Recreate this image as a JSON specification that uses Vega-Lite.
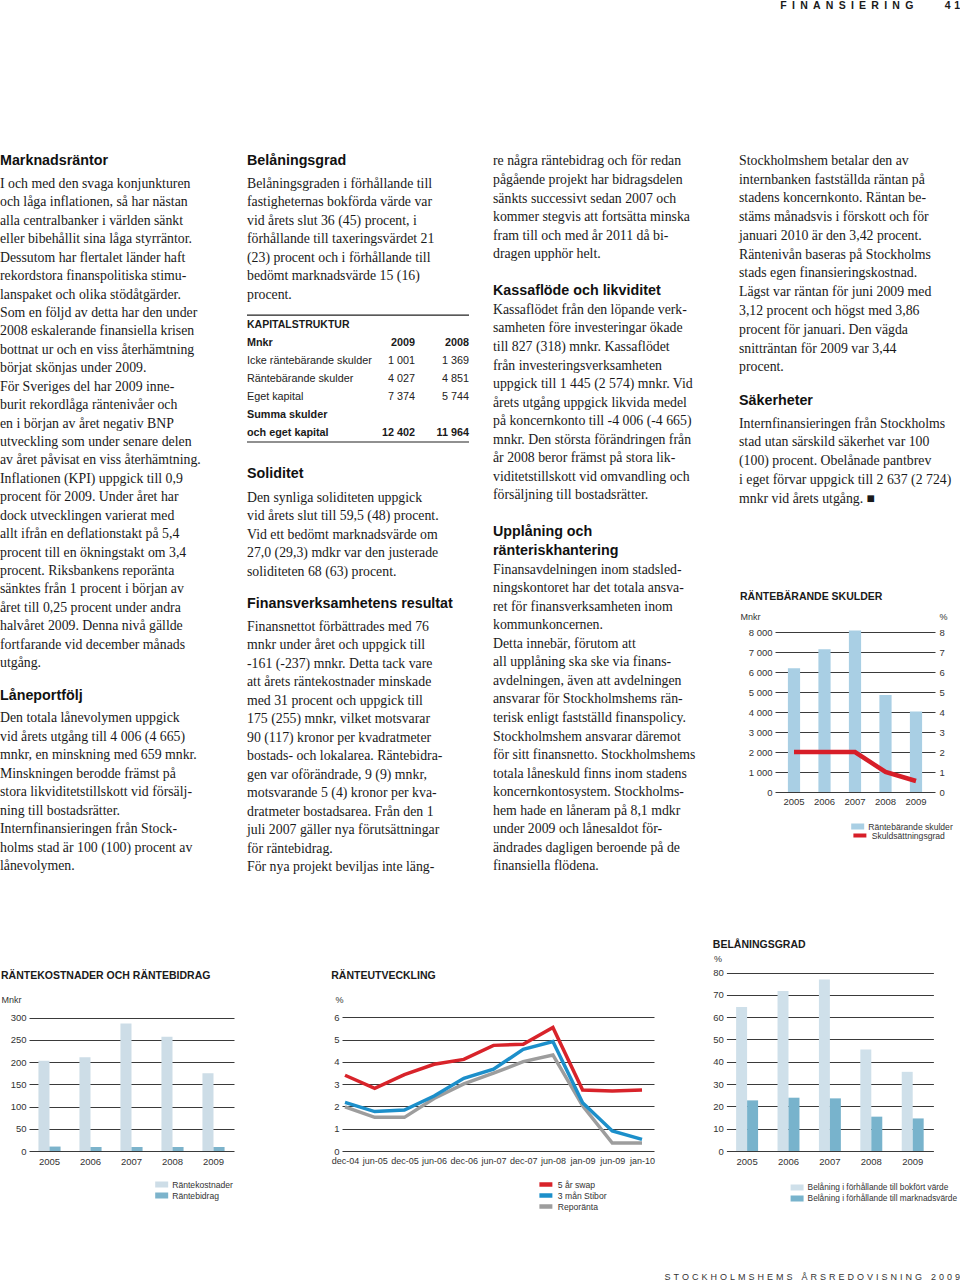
{
"$schema": "https://vega.github.io/schema/vega-lite/v6.json",
"padding": 0,
"background": "white",
"usermeta": {"embedOptions": {"actions": false}},
"config": {
  "view": {"stroke": null},
  "font": "Liberation Sans",
  "axis": {"labelFont": "Liberation Sans", "labelFontSize": 9.5, "labelColor": "#333333", "titleFont": "Liberation Sans", "titleFontSize": 9, "titleFontWeight": "normal", "titleColor": "#333333", "gridColor": "#3a3a3a", "gridWidth": 1, "domain": false, "ticks": false},
  "legend": {"labelFont": "Liberation Sans", "labelFontSize": 8.6, "labelColor": "#333333", "labelLimit": 300},
  "title": {"font": "Liberation Sans", "fontSize": 10.5, "fontWeight": "bold", "color": "#1a1a1a", "anchor": "start", "frame": "bounds"}
},
"datasets": {
  "c1": [
    {"line": 0, "kind": "h", "text": "Marknadsräntor"},
    {"line": 1, "kind": "b", "text": "I och med den svaga konjunkturen"},
    {"line": 2, "kind": "b", "text": "och låga inflationen, så har nästan"},
    {"line": 3, "kind": "b", "text": "alla centralbanker i världen sänkt"},
    {"line": 4, "kind": "b", "text": "eller bibehållit sina låga styrräntor."},
    {"line": 5, "kind": "b", "text": "Dessutom har flertalet länder haft"},
    {"line": 6, "kind": "b", "text": "rekordstora finanspolitiska stimu-"},
    {"line": 7, "kind": "b", "text": "lanspaket och olika stödåtgärder."},
    {"line": 8, "kind": "b", "text": "Som en följd av detta har den under"},
    {"line": 9, "kind": "b", "text": "2008 eskalerande finansiella krisen"},
    {"line": 10, "kind": "b", "text": "bottnat ur och en viss återhämtning"},
    {"line": 11, "kind": "b", "text": "börjat skönjas under 2009."},
    {"line": 12, "kind": "b", "text": "\u2003\u2005För Sveriges del har 2009 inne-"},
    {"line": 13, "kind": "b", "text": "burit rekordlåga räntenivåer och"},
    {"line": 14, "kind": "b", "text": "en i början av året negativ BNP"},
    {"line": 15, "kind": "b", "text": "utveckling som under senare delen"},
    {"line": 16, "kind": "b", "text": "av året påvisat en viss återhämtning."},
    {"line": 17, "kind": "b", "text": "Inflationen (KPI) uppgick till 0,9"},
    {"line": 18, "kind": "b", "text": "procent för 2009. Under året har"},
    {"line": 19, "kind": "b", "text": "dock utvecklingen varierat med"},
    {"line": 20, "kind": "b", "text": "allt ifrån en deflationstakt på 5,4"},
    {"line": 21, "kind": "b", "text": "procent till en ökningstakt om 3,4"},
    {"line": 22, "kind": "b", "text": "procent. Riksbankens reporänta"},
    {"line": 23, "kind": "b", "text": "sänktes från 1 procent i början av"},
    {"line": 24, "kind": "b", "text": "året till 0,25 procent under andra"},
    {"line": 25, "kind": "b", "text": "halvåret 2009. Denna nivå gällde"},
    {"line": 26, "kind": "b", "text": "fortfarande vid december månads"},
    {"line": 27, "kind": "b", "text": "utgång."},
    {"line": 29, "kind": "h", "text": "Låneportfölj"},
    {"line": 30, "kind": "b", "text": "Den totala lånevolymen uppgick"},
    {"line": 31, "kind": "b", "text": "vid årets utgång till 4 006 (4 665)"},
    {"line": 32, "kind": "b", "text": "mnkr, en minskning med 659 mnkr."},
    {"line": 33, "kind": "b", "text": "Minskningen berodde främst på"},
    {"line": 34, "kind": "b", "text": "stora likviditetstillskott vid försälj-"},
    {"line": 35, "kind": "b", "text": "ning till bostadsrätter."},
    {"line": 36, "kind": "b", "text": "\u2003\u2005Internfinansieringen från Stock-"},
    {"line": 37, "kind": "b", "text": "holms stad är 100 (100) procent av"},
    {"line": 38, "kind": "b", "text": "lånevolymen."}
  ],
  "c2": [
    {"line": 0, "kind": "h", "text": "Belåningsgrad"},
    {"line": 1, "kind": "b", "text": "Belåningsgraden i förhållande till"},
    {"line": 2, "kind": "b", "text": "fastigheternas bokförda värde var"},
    {"line": 3, "kind": "b", "text": "vid årets slut 36 (45) procent, i"},
    {"line": 4, "kind": "b", "text": "förhållande till taxeringsvärdet 21"},
    {"line": 5, "kind": "b", "text": "(23) procent och i förhållande till"},
    {"line": 6, "kind": "b", "text": "bedömt marknadsvärde 15 (16)"},
    {"line": 7, "kind": "b", "text": "procent."},
    {"line": 17, "kind": "h", "text": "Soliditet"},
    {"line": 18, "kind": "b", "text": "Den synliga soliditeten uppgick"},
    {"line": 19, "kind": "b", "text": "vid årets slut till 59,5 (48) procent."},
    {"line": 20, "kind": "b", "text": "Vid ett bedömt marknadsvärde om"},
    {"line": 21, "kind": "b", "text": "27,0 (29,3) mdkr var den justerade"},
    {"line": 22, "kind": "b", "text": "soliditeten 68 (63) procent."},
    {"line": 24, "kind": "h", "text": "Finansverksamhetens resultat"},
    {"line": 25, "kind": "b", "text": "Finansnettot förbättrades med 76"},
    {"line": 26, "kind": "b", "text": "mnkr under året och uppgick till"},
    {"line": 27, "kind": "b", "text": "-161 (-237) mnkr. Detta tack vare"},
    {"line": 28, "kind": "b", "text": "att årets räntekostnader minskade"},
    {"line": 29, "kind": "b", "text": "med 31 procent och uppgick till"},
    {"line": 30, "kind": "b", "text": "175 (255) mnkr, vilket motsvarar"},
    {"line": 31, "kind": "b", "text": "90 (117) kronor per kvadratmeter"},
    {"line": 32, "kind": "b", "text": "bostads- och lokalarea. Räntebidra-"},
    {"line": 33, "kind": "b", "text": "gen var oförändrade, 9 (9) mnkr,"},
    {"line": 34, "kind": "b", "text": "motsvarande 5 (4) kronor per kva-"},
    {"line": 35, "kind": "b", "text": "dratmeter bostadsarea. Från den 1"},
    {"line": 36, "kind": "b", "text": "juli 2007 gäller nya förutsättningar"},
    {"line": 37, "kind": "b", "text": "för räntebidrag."},
    {"line": 38, "kind": "b", "text": "\u2003\u2005För nya projekt beviljas inte läng-"}
  ],
  "c3": [
    {"line": 0, "kind": "b", "text": "re några räntebidrag och för redan"},
    {"line": 1, "kind": "b", "text": "pågående projekt har bidragsdelen"},
    {"line": 2, "kind": "b", "text": "sänkts successivt sedan 2007 och"},
    {"line": 3, "kind": "b", "text": "kommer stegvis att fortsätta minska"},
    {"line": 4, "kind": "b", "text": "fram till och med år 2011 då bi-"},
    {"line": 5, "kind": "b", "text": "dragen upphör helt."},
    {"line": 7, "kind": "h", "text": "Kassaflöde och likviditet"},
    {"line": 8, "kind": "b", "text": "Kassaflödet från den löpande verk-"},
    {"line": 9, "kind": "b", "text": "samheten före investeringar ökade"},
    {"line": 10, "kind": "b", "text": "till 827 (318) mnkr. Kassaflödet"},
    {"line": 11, "kind": "b", "text": "från investeringsverksamheten"},
    {"line": 12, "kind": "b", "text": "uppgick till 1 445 (2 574) mnkr. Vid"},
    {"line": 13, "kind": "b", "text": "årets utgång uppgick likvida medel"},
    {"line": 14, "kind": "b", "text": "på koncernkonto till -4 006 (-4 665)"},
    {"line": 15, "kind": "b", "text": "mnkr. Den största förändringen från"},
    {"line": 16, "kind": "b", "text": "år 2008 beror främst på stora lik-"},
    {"line": 17, "kind": "b", "text": "viditetstillskott vid omvandling och"},
    {"line": 18, "kind": "b", "text": "försäljning till bostadsrätter."},
    {"line": 20, "kind": "h", "text": "Upplåning och"},
    {"line": 21, "kind": "h", "text": "ränteriskhantering"},
    {"line": 22, "kind": "b", "text": "Finansavdelningen inom stadsled-"},
    {"line": 23, "kind": "b", "text": "ningskontoret har det totala ansva-"},
    {"line": 24, "kind": "b", "text": "ret för finansverksamheten inom"},
    {"line": 25, "kind": "b", "text": "kommunkoncernen."},
    {"line": 26, "kind": "b", "text": "\u2003\u2005Detta innebär, förutom att"},
    {"line": 27, "kind": "b", "text": "all upplåning ska ske via finans-"},
    {"line": 28, "kind": "b", "text": "avdelningen, även att avdelningen"},
    {"line": 29, "kind": "b", "text": "ansvarar för Stockholmshems rän-"},
    {"line": 30, "kind": "b", "text": "terisk enligt fastställd finanspolicy."},
    {"line": 31, "kind": "b", "text": "Stockholmshem ansvarar däremot"},
    {"line": 32, "kind": "b", "text": "för sitt finansnetto. Stockholmshems"},
    {"line": 33, "kind": "b", "text": "totala låneskuld finns inom stadens"},
    {"line": 34, "kind": "b", "text": "koncernkontosystem. Stockholms-"},
    {"line": 35, "kind": "b", "text": "hem hade en låneram på 8,1 mdkr"},
    {"line": 36, "kind": "b", "text": "under 2009 och lånesaldot för-"},
    {"line": 37, "kind": "b", "text": "ändrades dagligen beroende på de"},
    {"line": 38, "kind": "b", "text": "finansiella flödena."}
  ],
  "c4": [
    {"line": 0, "kind": "b", "text": "\u2003\u2005Stockholmshem betalar den av"},
    {"line": 1, "kind": "b", "text": "internbanken fastställda räntan på"},
    {"line": 2, "kind": "b", "text": "stadens koncernkonto. Räntan be-"},
    {"line": 3, "kind": "b", "text": "stäms månadsvis i förskott och för"},
    {"line": 4, "kind": "b", "text": "januari 2010 är den 3,42 procent."},
    {"line": 5, "kind": "b", "text": "Räntenivån baseras på Stockholms"},
    {"line": 6, "kind": "b", "text": "stads egen finansieringskostnad."},
    {"line": 7, "kind": "b", "text": "Lägst var räntan för juni 2009 med"},
    {"line": 8, "kind": "b", "text": "3,12 procent och högst med 3,86"},
    {"line": 9, "kind": "b", "text": "procent för januari. Den vägda"},
    {"line": 10, "kind": "b", "text": "snitträntan för 2009 var 3,44"},
    {"line": 11, "kind": "b", "text": "procent."},
    {"line": 13, "kind": "h", "text": "Säkerheter"},
    {"line": 14, "kind": "b", "text": "Internfinansieringen från Stockholms"},
    {"line": 15, "kind": "b", "text": "stad utan särskild säkerhet var 100"},
    {"line": 16, "kind": "b", "text": "(100) procent. Obelånade pantbrev"},
    {"line": 17, "kind": "b", "text": "i eget förvar uppgick till 2 637 (2 724)"},
    {"line": 18, "kind": "b", "text": "mnkr vid årets utgång. \u25a0"}
  ],
  "kapL": [
    {"r": 0, "kind": "title", "label": "KAPITALSTRUKTUR"},
    {"r": 1, "kind": "head", "label": "Mnkr"},
    {"r": 2, "kind": "item", "label": "Icke räntebärande skulder"},
    {"r": 3, "kind": "item", "label": "Räntebärande skulder"},
    {"r": 4, "kind": "item", "label": "Eget kapital"},
    {"r": 5, "kind": "total", "label": "Summa skulder"},
    {"r": 6, "kind": "total", "label": "och eget kapital"}
  ],
  "kapN": [
    {"r": 1, "kind": "head", "col": "2009", "v": "2009"},
    {"r": 1, "kind": "head", "col": "2008", "v": "2008"},
    {"r": 2, "kind": "item", "col": "2009", "v": "1 001"},
    {"r": 2, "kind": "item", "col": "2008", "v": "1 369"},
    {"r": 3, "kind": "item", "col": "2009", "v": "4 027"},
    {"r": 3, "kind": "item", "col": "2008", "v": "4 851"},
    {"r": 4, "kind": "item", "col": "2009", "v": "7 374"},
    {"r": 4, "kind": "item", "col": "2008", "v": "5 744"},
    {"r": 6, "kind": "total", "col": "2009", "v": "12 402"},
    {"r": 6, "kind": "total", "col": "2008", "v": "11 964"}
  ],
  "rs": [
    {"year": "2005", "skulder": 6190, "grad": 2.0},
    {"year": "2006", "skulder": 7140, "grad": 2.0},
    {"year": "2007", "skulder": 8070, "grad": 2.0},
    {"year": "2008", "skulder": 4851, "grad": 1.0},
    {"year": "2009", "skulder": 4027, "grad": 0.55}
  ],
  "rk": [
    {"year": "2005", "serie": "Räntekostnader", "value": 203},
    {"year": "2005", "serie": "Räntebidrag", "value": 10},
    {"year": "2006", "serie": "Räntekostnader", "value": 211},
    {"year": "2006", "serie": "Räntebidrag", "value": 9},
    {"year": "2007", "serie": "Räntekostnader", "value": 287},
    {"year": "2007", "serie": "Räntebidrag", "value": 9},
    {"year": "2008", "serie": "Räntekostnader", "value": 257},
    {"year": "2008", "serie": "Räntebidrag", "value": 9},
    {"year": "2009", "serie": "Räntekostnader", "value": 175},
    {"year": "2009", "serie": "Räntebidrag", "value": 9}
  ],
  "ru": [
    {"period": "dec-04", "serie": "Reporänta", "value": 1.98},
    {"period": "jun-05", "serie": "Reporänta", "value": 1.51},
    {"period": "dec-05", "serie": "Reporänta", "value": 1.51},
    {"period": "jun-06", "serie": "Reporänta", "value": 2.36},
    {"period": "dec-06", "serie": "Reporänta", "value": 3.01},
    {"period": "jun-07", "serie": "Reporänta", "value": 3.49},
    {"period": "dec-07", "serie": "Reporänta", "value": 4.01},
    {"period": "jun-08", "serie": "Reporänta", "value": 4.31},
    {"period": "jan-09", "serie": "Reporänta", "value": 2.03},
    {"period": "jun-09", "serie": "Reporänta", "value": 0.36},
    {"period": "jan-10", "serie": "Reporänta", "value": 0.36},
    {"period": "dec-04", "serie": "3 mån Stibor", "value": 2.18},
    {"period": "jun-05", "serie": "3 mån Stibor", "value": 1.77},
    {"period": "dec-05", "serie": "3 mån Stibor", "value": 1.84},
    {"period": "jun-06", "serie": "3 mån Stibor", "value": 2.47},
    {"period": "dec-06", "serie": "3 mån Stibor", "value": 3.26},
    {"period": "jun-07", "serie": "3 mån Stibor", "value": 3.67},
    {"period": "dec-07", "serie": "3 mån Stibor", "value": 4.56},
    {"period": "jun-08", "serie": "3 mån Stibor", "value": 4.91},
    {"period": "jan-09", "serie": "3 mån Stibor", "value": 2.17},
    {"period": "jun-09", "serie": "3 mån Stibor", "value": 0.9},
    {"period": "jan-10", "serie": "3 mån Stibor", "value": 0.52},
    {"period": "dec-04", "serie": "5 år swap", "value": 3.4},
    {"period": "jun-05", "serie": "5 år swap", "value": 2.81},
    {"period": "dec-05", "serie": "5 år swap", "value": 3.43},
    {"period": "jun-06", "serie": "5 år swap", "value": 3.89},
    {"period": "dec-06", "serie": "5 år swap", "value": 4.11},
    {"period": "jun-07", "serie": "5 år swap", "value": 4.74},
    {"period": "dec-07", "serie": "5 år swap", "value": 4.79},
    {"period": "jun-08", "serie": "5 år swap", "value": 5.54},
    {"period": "jan-09", "serie": "5 år swap", "value": 2.74},
    {"period": "jun-09", "serie": "5 år swap", "value": 2.69},
    {"period": "jan-10", "serie": "5 år swap", "value": 2.74}
  ],
  "bg": [
    {"year": "2005", "serie": "Belåning i förhållande till bokfört värde", "value": 64.6},
    {"year": "2005", "serie": "Belåning i förhållande till marknadsvärde", "value": 22.7},
    {"year": "2006", "serie": "Belåning i förhållande till bokfört värde", "value": 71.8},
    {"year": "2006", "serie": "Belåning i förhållande till marknadsvärde", "value": 23.9},
    {"year": "2007", "serie": "Belåning i förhållande till bokfört värde", "value": 76.9},
    {"year": "2007", "serie": "Belåning i förhållande till marknadsvärde", "value": 23.6},
    {"year": "2008", "serie": "Belåning i förhållande till bokfört värde", "value": 45.5},
    {"year": "2008", "serie": "Belåning i förhållande till marknadsvärde", "value": 15.4},
    {"year": "2009", "serie": "Belåning i förhållande till bokfört värde", "value": 35.5},
    {"year": "2009", "serie": "Belåning i förhållande till marknadsvärde", "value": 14.6}
  ]
},
"columns": 1,
"align": "none",
"spacing": 55,
"resolve": {"scale": {"color": "independent", "fill": "independent", "stroke": "independent"}, "legend": {"color": "independent", "fill": "independent", "stroke": "independent"}},
"concat": [
  {
    "width": 960, "height": 12,
    "data": {"values": [{"t": "F\u2002I\u2002N\u2002A\u2002N\u2002S\u2002I\u2002E\u2002R\u2002I\u2002N\u2002G\u2003\u2003\u20034\u20041"}]},
    "mark": {"type": "text", "align": "right", "baseline": "middle", "font": "Liberation Sans", "fontWeight": "bold", "fontSize": 10.5, "fill": "#1a1a1a"},
    "encoding": {"text": {"field": "t"}, "x": {"value": "width"}}
  },
  {
    "columns": 4,
    "align": "none",
    "spacing": 14,
    "resolve": {"scale": {"color": "independent", "fill": "independent", "stroke": "independent"}, "legend": {"color": "independent", "fill": "independent", "stroke": "independent"}},
    "concat": [
      {
        "width": 232, "height": 813,
        "data": {"name": "c1"},
        "layer": [
          {"transform": [{"filter": "datum.kind == 'b'"}],
           "mark": {"type": "text", "align": "left", "baseline": "middle", "font": "Liberation Serif", "fontSize": 13.8, "fill": "#1a1a1a"},
           "encoding": {"x": {"value": 0}, "y": {"field": "line", "type": "quantitative", "scale": {"domain": [-5.35, 38.763], "reverse": true, "nice": false, "zero": false}, "axis": null}, "text": {"field": "text"}}},
          {"transform": [{"filter": "datum.kind == 'h'"}],
           "mark": {"type": "text", "align": "left", "baseline": "middle", "font": "Liberation Sans", "fontWeight": "bold", "fontSize": 14.3, "fill": "#111111", "dy": -4.5},
           "encoding": {"x": {"value": 0}, "y": {"field": "line", "type": "quantitative", "scale": {"domain": [-5.35, 38.763], "reverse": true, "nice": false, "zero": false}, "axis": null}, "text": {"field": "text"}}}
        ]
      },
      {
        "width": 232, "height": 813,
        "layer": [
          {"data": {"name": "c2"}, "transform": [{"filter": "datum.kind == 'b'"}],
           "mark": {"type": "text", "align": "left", "baseline": "middle", "font": "Liberation Serif", "fontSize": 13.8, "fill": "#1a1a1a"},
           "encoding": {"x": {"value": 0}, "y": {"field": "line", "type": "quantitative", "scale": {"domain": [-5.336, 38.705], "reverse": true, "nice": false, "zero": false}, "axis": null}, "text": {"field": "text"}}},
          {"data": {"name": "c2"}, "transform": [{"filter": "datum.kind == 'h'"}],
           "mark": {"type": "text", "align": "left", "baseline": "middle", "font": "Liberation Sans", "fontWeight": "bold", "fontSize": 14.3, "fill": "#111111", "dy": -5},
           "encoding": {"x": {"value": 0}, "y": {"field": "line", "type": "quantitative", "scale": {"domain": [-5.336, 38.705], "reverse": true, "nice": false, "zero": false}, "axis": null}, "text": {"field": "text"}}},
          {"data": {"name": "kapL"}, "transform": [{"filter": "datum.kind == 'title'"}],
           "mark": {"type": "text", "align": "left", "baseline": "middle", "font": "Liberation Sans", "fontWeight": "bold", "fontSize": 10.5, "fill": "#1a1a1a"},
           "encoding": {"x": {"value": 0}, "y": {"field": "r", "type": "quantitative", "scale": {"domain": [-14.3333, 30.8333], "reverse": true, "nice": false, "zero": false}, "axis": null}, "text": {"field": "label"}}},
          {"data": {"name": "kapL"}, "transform": [{"filter": "datum.kind == 'item'"}],
           "mark": {"type": "text", "align": "left", "baseline": "middle", "font": "Liberation Sans", "fontSize": 10.8, "fill": "#222222"},
           "encoding": {"x": {"value": 0}, "y": {"field": "r", "type": "quantitative", "scale": {"domain": [-14.3333, 30.8333], "reverse": true, "nice": false, "zero": false}, "axis": null}, "text": {"field": "label"}}},
          {"data": {"name": "kapL"}, "transform": [{"filter": "datum.kind == 'head' || datum.kind == 'total'"}],
           "mark": {"type": "text", "align": "left", "baseline": "middle", "font": "Liberation Sans", "fontWeight": "bold", "fontSize": 10.8, "fill": "#1a1a1a"},
           "encoding": {"x": {"value": 0}, "y": {"field": "r", "type": "quantitative", "scale": {"domain": [-14.3333, 30.8333], "reverse": true, "nice": false, "zero": false}, "axis": null}, "text": {"field": "label"}}},
          {"data": {"name": "kapN"}, "transform": [{"filter": "datum.kind == 'item'"}],
           "mark": {"type": "text", "align": "right", "baseline": "middle", "font": "Liberation Sans", "fontSize": 10.8, "fill": "#222222"},
           "encoding": {"x": {"field": "col", "type": "ordinal", "scale": {"domain": ["2009", "2008"], "range": [168, 222], "padding": 0}, "axis": null}, "y": {"field": "r", "type": "quantitative", "scale": {"domain": [-14.3333, 30.8333], "reverse": true, "nice": false, "zero": false}, "axis": null}, "text": {"field": "v"}}},
          {"data": {"name": "kapN"}, "transform": [{"filter": "datum.kind != 'item'"}],
           "mark": {"type": "text", "align": "right", "baseline": "middle", "font": "Liberation Sans", "fontWeight": "bold", "fontSize": 10.8, "fill": "#1a1a1a"},
           "encoding": {"x": {"field": "col", "type": "ordinal", "scale": {"domain": ["2009", "2008"], "range": [168, 222], "padding": 0}, "axis": null}, "y": {"field": "r", "type": "quantitative", "scale": {"domain": [-14.3333, 30.8333], "reverse": true, "nice": false, "zero": false}, "axis": null}, "text": {"field": "v"}}},
          {"data": {"values": [{}]},
           "mark": {"type": "rule", "color": "#222222", "strokeWidth": 1.2},
           "encoding": {"x": {"value": 0}, "x2": {"value": 222}, "y": {"datum": -0.55, "type": "quantitative", "scale": {"domain": [-14.3333, 30.8333], "reverse": true, "nice": false, "zero": false}, "axis": null}}},
          {"data": {"values": [{}]},
           "mark": {"type": "rule", "color": "#222222", "strokeWidth": 1.2},
           "encoding": {"x": {"value": 0}, "x2": {"value": 222}, "y": {"datum": 6.5, "type": "quantitative", "scale": {"domain": [-14.3333, 30.8333], "reverse": true, "nice": false, "zero": false}, "axis": null}}}
        ],
        "resolve": {"scale": {"y": "independent"}}
      },
      {
        "width": 232, "height": 813,
        "data": {"name": "c3"},
        "layer": [
          {"transform": [{"filter": "datum.kind == 'b'"}],
           "mark": {"type": "text", "align": "left", "baseline": "middle", "font": "Liberation Serif", "fontSize": 13.8, "fill": "#1a1a1a"},
           "encoding": {"x": {"value": 0}, "y": {"field": "line", "type": "quantitative", "scale": {"domain": [-5.0943, 38.7332], "reverse": true, "nice": false, "zero": false}, "axis": null}, "text": {"field": "text"}}},
          {"transform": [{"filter": "datum.kind == 'h'"}],
           "mark": {"type": "text", "align": "left", "baseline": "middle", "font": "Liberation Sans", "fontWeight": "bold", "fontSize": 14.3, "fill": "#111111", "dy": 0},
           "encoding": {"x": {"value": 0}, "y": {"field": "line", "type": "quantitative", "scale": {"domain": [-5.0943, 38.7332], "reverse": true, "nice": false, "zero": false}, "axis": null}, "text": {"field": "text"}}}
        ]
      },
      {
        "columns": 1,
        "align": "none",
        "spacing": 10,
        "resolve": {"scale": {"color": "independent", "fill": "independent", "stroke": "independent"}, "legend": {"color": "independent", "fill": "independent", "stroke": "independent"}},
        "concat": [
          {
            "width": 222, "height": 513.5,
            "data": {"name": "c4"},
            "layer": [
              {"transform": [{"filter": "datum.kind == 'b'"}],
               "mark": {"type": "text", "align": "left", "baseline": "middle", "font": "Liberation Serif", "fontSize": 13.8, "fill": "#1a1a1a"},
               "encoding": {"x": {"value": 0}, "y": {"field": "line", "type": "quantitative", "scale": {"domain": [-5.0133, 22.3733], "reverse": true, "nice": false, "zero": false}, "axis": null}, "text": {"field": "text"}}},
              {"transform": [{"filter": "datum.kind == 'h'"}],
               "mark": {"type": "text", "align": "left", "baseline": "middle", "font": "Liberation Sans", "fontWeight": "bold", "fontSize": 14.3, "fill": "#111111", "dy": -4},
               "encoding": {"x": {"value": 0}, "y": {"field": "line", "type": "quantitative", "scale": {"domain": [-5.0133, 22.3733], "reverse": true, "nice": false, "zero": false}, "axis": null}, "text": {"field": "text"}}}
            ]
          },
          {
            "columns": 2,
            "align": "none",
            "spacing": 0,
            "resolve": {"scale": {"color": "independent", "fill": "independent", "stroke": "independent"}, "legend": {"color": "independent", "fill": "independent", "stroke": "independent"}},
            "concat": [
              {"width": 1, "height": 1, "data": {"values": [{"t": ""}]}, "mark": {"type": "text", "baseline": "top", "align": "left"}, "encoding": {"text": {"field": "t"}, "x": {"value": 0}, "y": {"value": 0}}},
              {
                "width": 160, "height": 160,
                "title": {"text": "\u2002\u2002RÄNTEBÄRANDE SKULDER", "offset": 10},
                "data": {"name": "rs"},
                "layer": [
                  {"mark": {"type": "bar"},
                   "encoding": {
                     "x": {"field": "year", "type": "ordinal", "scale": {"paddingInner": 0.6, "paddingOuter": 0.423}, "axis": {"title": null, "labelAngle": 0, "labelPadding": 4}},
                     "y": {"field": "skulder", "type": "quantitative", "scale": {"domain": [0, 8000], "nice": false}, "axis": {"values": [0, 1000, 2000, 3000, 4000, 5000, 6000, 7000, 8000], "labelExpr": "replace(format(datum.value, ',d'), ',', ' ')", "title": "\u2002\u2002Mnkr", "titleAngle": 0, "titleAlign": "left", "titleBaseline": "middle", "titleX": -35, "titleY": -16, "labelPadding": 3}},
                     "fill": {"datum": "Räntebärande skulder", "type": "nominal", "scale": {"range": ["#a9cfe4"]}, "legend": {"title": null, "orient": "none", "legendX": 76.2, "legendY": 190, "symbolType": "M-2,-0.7H2V0.7H-2Z", "symbolSize": 72, "labelOffset": 8, "clipHeight": 9, "symbolStrokeWidth": 0}}
                   }},
                  {"mark": {"type": "line", "strokeWidth": 4.5, "strokeCap": "butt"},
                   "encoding": {
                     "x": {"field": "year", "type": "ordinal"},
                     "y": {"field": "grad", "type": "quantitative", "scale": {"domain": [0, 8], "nice": false}, "axis": {"orient": "right", "values": [0, 1, 2, 3, 4, 5, 6, 7, 8], "grid": false, "title": "%", "titleAngle": 0, "titleAlign": "left", "titleBaseline": "middle", "titleX": 4, "titleY": -16, "labelPadding": 4}},
                     "stroke": {"datum": "Skuldsättningsgrad", "type": "nominal", "scale": {"range": ["#d71e28"]}, "legend": {"title": null, "orient": "none", "legendX": 78.4, "legendY": 199, "symbolType": "M-4,0H4", "symbolSize": 18, "labelOffset": 9.4, "clipHeight": 9, "symbolStrokeWidth": 4}}
                   }}
                ],
                "resolve": {"scale": {"y": "independent"}}
              }
            ]
          }
        ]
      }
    ]
  },
  {
    "columns": 2,
    "align": "none",
    "spacing": 0,
    "resolve": {"scale": {"color": "independent", "fill": "independent", "stroke": "independent"}, "legend": {"color": "independent", "fill": "independent", "stroke": "independent"}},
    "concat": [
      {"width": 1, "height": 1, "data": {"values": [{"t": ""}]}, "mark": {"type": "text", "baseline": "top", "align": "left"}, "encoding": {"text": {"field": "t"}, "x": {"value": 0}, "y": {"value": 0}}},
      {
        "columns": 2,
        "align": "none",
        "spacing": 97,
        "resolve": {"scale": {"color": "independent", "fill": "independent", "stroke": "independent"}, "legend": {"color": "independent", "fill": "independent", "stroke": "independent"}},
        "concat": [
          {
            "width": 205, "height": 216,
            "title": {"text": "RÄNTEKOSTNADER OCH RÄNTEBIDRAG", "offset": -46},
            "data": {"name": "rk"},
            "encoding": {
              "x": {"field": "year", "type": "ordinal", "scale": {"paddingInner": 0.46, "paddingOuter": 0.23}, "axis": {"title": null, "labelAngle": 0, "labelPadding": 5}},
              "y": {"field": "value", "type": "quantitative", "scale": {"domain": [0, 486.1], "nice": false}, "axis": {"values": [0, 50, 100, 150, 200, 250, 300], "title": "\u2002Mnkr", "titleAngle": 0, "titleAlign": "left", "titleBaseline": "middle", "titleX": -28, "titleY": 64, "labelPadding": 3}},
              "color": {"field": "serie", "type": "nominal", "scale": {"domain": ["Räntekostnader", "Räntebidrag"], "range": ["#cddde7", "#7cb3cb"]}, "legend": {"title": null, "orient": "none", "legendX": 126.2, "legendY": 245, "symbolType": "M-2,-0.7H2V0.7H-2Z", "symbolSize": 72, "labelOffset": 8, "clipHeight": 9, "rowPadding": 1, "symbolStrokeWidth": 0}}
            },
            "layer": [
              {"transform": [{"filter": "datum.serie == 'Räntekostnader'"}], "mark": {"type": "bar", "width": {"band": 0.5}, "xOffset": -5.53}},
              {"transform": [{"filter": "datum.serie == 'Räntebidrag'"}], "mark": {"type": "bar", "width": {"band": 0.5}, "xOffset": 5.53}}
            ]
          },
          {
            "columns": 2,
            "align": "none",
            "spacing": 57.4,
            "resolve": {"scale": {"color": "independent", "fill": "independent", "stroke": "independent"}, "legend": {"color": "independent", "fill": "independent", "stroke": "independent"}},
            "concat": [
              {
                "width": 312, "height": 216,
                "title": {"text": "RÄNTEUTVECKLING", "offset": -46},
                "data": {"name": "ru"},
                "mark": {"type": "line", "strokeWidth": 3.5},
                "encoding": {
                  "x": {"field": "period", "type": "ordinal", "sort": ["dec-04", "jun-05", "dec-05", "jun-06", "dec-06", "jun-07", "dec-07", "jun-08", "jan-09", "jun-09", "jan-10"], "scale": {"padding": 0.2525, "align": 0.2}, "axis": {"title": null, "labelAngle": 0, "labelPadding": 5, "labelOverlap": false, "labelFontSize": 9}},
                  "y": {"field": "value", "type": "quantitative", "scale": {"domain": [0, 9.693], "nice": false}, "axis": {"values": [0, 1, 2, 3, 4, 5, 6], "title": "%", "titleAngle": 0, "titleAlign": "left", "titleBaseline": "middle", "titleX": -7, "titleY": 64, "labelPadding": 3}},
                  "color": {"field": "serie", "type": "nominal", "scale": {"domain": ["5 år swap", "3 mån Stibor", "Reporänta"], "range": ["#d8232a", "#1c8fca", "#9d9d9d"]}, "legend": {"title": null, "orient": "none", "legendX": 197.4, "legendY": 245, "symbolType": "M-4,0H4", "symbolSize": 18, "labelOffset": 9.4, "clipHeight": 9, "rowPadding": 1, "symbolStrokeWidth": 4.5}}
                }
              },
              {
                "width": 207, "height": 216,
                "title": {"text": "BELÅNINGSGRAD", "offset": -15},
                "data": {"name": "bg"},
                "encoding": {
                  "x": {"field": "year", "type": "ordinal", "scale": {"paddingInner": 0.47, "paddingOuter": 0.235}, "axis": {"title": null, "labelAngle": 0, "labelPadding": 5}},
                  "y": {"field": "value", "type": "quantitative", "scale": {"domain": [0, 96.86], "nice": false}, "axis": {"values": [0, 10, 20, 30, 40, 50, 60, 70, 80], "title": "%", "titleAngle": 0, "titleAlign": "left", "titleBaseline": "middle", "titleX": -13, "titleY": 23, "labelPadding": 3}},
                  "color": {"field": "serie", "type": "nominal", "scale": {"domain": ["Belåning i förhållande till bokfört värde", "Belåning i förhållande till marknadsvärde"], "range": ["#cfe0ea", "#78b3cc"]}, "legend": {"title": null, "orient": "none", "legendX": 64.2, "legendY": 248, "symbolType": "M-2,-0.7H2V0.7H-2Z", "symbolSize": 72, "labelOffset": 8, "labelFontSize": 8.3, "clipHeight": 9, "rowPadding": 1, "symbolStrokeWidth": 0}}
                },
                "layer": [
                  {"transform": [{"filter": "datum.serie == 'Belåning i förhållande till bokfört värde'"}], "mark": {"type": "bar", "width": {"band": 0.5}, "xOffset": -5.49}},
                  {"transform": [{"filter": "datum.serie == 'Belåning i förhållande till marknadsvärde'"}], "mark": {"type": "bar", "width": {"band": 0.5}, "xOffset": 5.49}}
                ]
              }
            ]
          }
        ]
      }
    ]
  },
  {
    "width": 960, "height": 20,
    "data": {"values": [{"t": "S\u2004T\u2004O\u2004C\u2004K\u2004H\u2004O\u2004L\u2004M\u2004S\u2004H\u2004E\u2004M\u2004S\u2003Å\u2004R\u2004S\u2004R\u2004E\u2004D\u2004O\u2004V\u2004I\u2004S\u2004N\u2004I\u2004N\u2004G\u20032\u20040\u20040\u20049"}]},
    "mark": {"type": "text", "align": "right", "baseline": "middle", "font": "Liberation Sans", "fontSize": 9, "fill": "#333333"},
    "encoding": {"text": {"field": "t"}, "x": {"value": "width"}}
  }
]
}
